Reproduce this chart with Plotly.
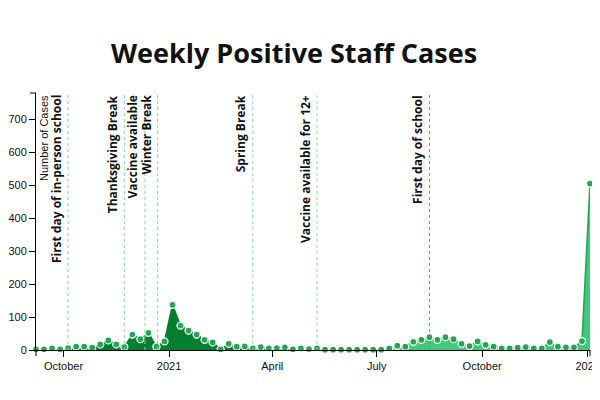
import pandas as pd
import plotly.graph_objects as go

# Weekly dates (Mondays) from 2020-09-07 to 2022-01-03
week_start = "2020-09-07"
n_weeks = 70
weeks = pd.date_range(week_start, periods=n_weeks, freq="7D")

cases = [2, 2, 5, 2, 6, 10, 10, 7, 17, 29,
         17, 9, 47, 33, 52, 10, 26, 137, 74, 59,
         47, 31, 23, 2, 19, 10, 11, 5, 9, 5,
         6, 8, 2, 5, 3, 5, 1, 1, 1, 1,
         1, 1, 1, 1, 5, 13, 10, 25, 31, 39,
         31, 39, 33, 19, 12, 26, 16, 10, 5, 5,
         7, 9, 5, 5, 24, 10, 8, 8, 27, 505]

split_index = 43  # school year 2020-21 vs 2021-22

event_dates = ["2020-10-05", "2020-11-23", "2020-12-11", "2020-12-22",
               "2021-03-15", "2021-05-10", "2021-08-16"]
event_labels = ["First day of in-person school", "Thanksgiving Break",
                "Vaccine available", "Winter Break", "Spring Break",
                "Vaccine available for 12+", "First day of school"]
event_colors = ["#84d6a4", "#84d6a4", "#84d6a4", "#84d6a4", "#84d6a4",
                "#84d6a4", "#2fb565"]

tick_dates = ["2020-10-01", "2021-01-01", "2021-04-01", "2021-07-01",
              "2021-10-01", "2022-01-01"]
tick_text = ["October", "2021", "April", "July", "October", "2022"]
y_ticks = [0, 100, 200, 300, 400, 500, 600, 700]

dark_fill = "#00802f"
light_fill = "#3fc97c"
marker_green = "#1ea84f"

# window geometry of the plot area (page has an 8px body margin)
PL, PR, PT, PB = 36, 590, 93, 350
PW, PH = PR - PL, PB - PT


def px_x(x):
    return (x - PL) / PW


def px_y(y):
    return (PB - y) / PH


fig = go.Figure()
fig.add_trace(go.Scatter(
    x=weeks[:split_index + 1], y=cases[:split_index + 1], mode="lines",
    fill="tozeroy", fillcolor=dark_fill,
    line=dict(color=dark_fill, width=1.5), cliponaxis=False,
    hoverinfo="skip", showlegend=False))
fig.add_trace(go.Scatter(
    x=weeks[split_index:], y=cases[split_index:], mode="lines",
    fill="tozeroy", fillcolor=light_fill,
    line=dict(color=marker_green, width=1.5), cliponaxis=False,
    hoverinfo="skip", showlegend=False))

shapes = []
annotations = []
for d, lab, col in zip(event_dates, event_labels, event_colors):
    shapes.append(dict(type="line", xref="x", yref="paper", x0=d, x1=d,
                       y0=0, y1=1, line=dict(color=col, width=1, dash="3px,3px"),
                       layer="above"))
    annotations.append(dict(x=d, xref="x", y=1, yref="paper", text=lab,
                            textangle=-90, xanchor="center", yanchor="top",
                            xshift=-12, showarrow=False,
                            font=dict(family="Open Sans", size=12,
                                      color="#111111", weight="bold")))

fig.add_trace(go.Scatter(
    x=weeks, y=cases, mode="markers", cliponaxis=False,
    marker=dict(color=marker_green, size=7,
                line=dict(color="white", width=1.3)),
    hoverinfo="skip", showlegend=False))

# y-axis label
annotations.append(dict(x=px_x(44), xref="paper", y=1, yref="paper",
                        text="Number of Cases", textangle=-90,
                        xanchor="center", yanchor="top", showarrow=False,
                        font=dict(family="Liberation Sans", size=11, color="#111111")))
# title
annotations.append(dict(x=px_x(294), xref="paper", y=px_y(52.5), yref="paper",
                        text="Weekly Positive Staff Cases", xanchor="center",
                        yanchor="middle", showarrow=False,
                        font=dict(family="Open Sans", size=27, color="#111111",
                                  weight="bold")))

# outer ticks at axis ends
shapes.append(dict(type="line", xref="paper", yref="paper",
                   x0=-6 / PW, x1=0, y0=1, y1=1,
                   line=dict(color="black", width=1)))
shapes.append(dict(type="line", xref="paper", yref="paper",
                   x0=0, x1=0, y0=0, y1=-6 / PH,
                   line=dict(color="black", width=1)))
shapes.append(dict(type="line", xref="paper", yref="paper",
                   x0=1, x1=1, y0=0, y1=-6 / PH,
                   line=dict(color="black", width=1)))

fig.update_layout(
    width=592, height=392,
    margin=dict(l=PL - 8, r=592 - (PR - 8), t=PT - 8, b=392 - (PB - 8),
                autoexpand=False),
    paper_bgcolor="white", plot_bgcolor="white",
    shapes=shapes, annotations=annotations,
    xaxis=dict(type="date", range=[weeks[0], weeks[-1]],
               tickvals=tick_dates, ticktext=tick_text,
               ticks="outside", ticklen=6, tickcolor="black",
               showline=True, linecolor="black", linewidth=1,
               showgrid=False, zeroline=False,
               tickfont=dict(family="Liberation Sans", size=11, color="#111111")),
    yaxis=dict(range=[0, 780], tickvals=y_ticks,
               ticks="outside", ticklen=6, tickcolor="black",
               showline=True, linecolor="black", linewidth=1,
               showgrid=False, zeroline=False,
               tickfont=dict(family="Liberation Sans", size=11, color="#111111")),
)

fig.write_html("out.html")
